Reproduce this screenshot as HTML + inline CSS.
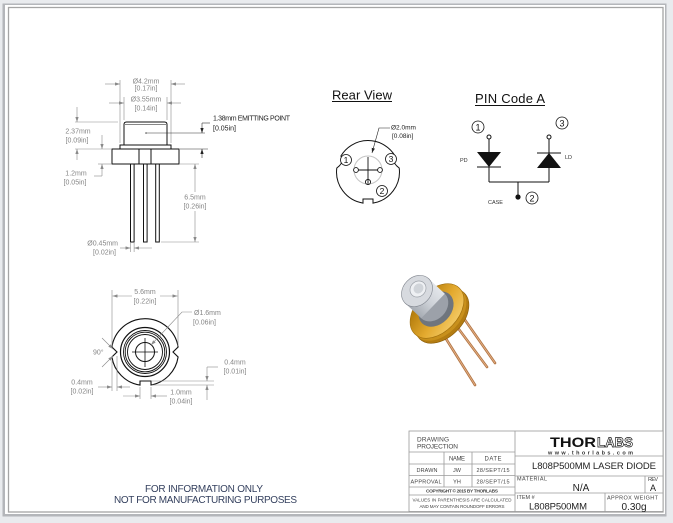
<!DOCTYPE html>
<html><head><meta charset="utf-8"><style>
html,body{margin:0;padding:0;background:#e9ebee;}
svg{display:block;font-family:"Liberation Sans",sans-serif;}
</style></head><body>
<svg width="673" height="523" viewBox="0 0 673 523" xmlns="http://www.w3.org/2000/svg">
<defs>
<marker id="ag" viewBox="0 0 6 4" refX="6" refY="2" markerWidth="5" markerHeight="3.4" markerUnits="userSpaceOnUse" orient="auto"><path d="M0,0 L6,2 L0,4 z" fill="#8a8a8a"/></marker>
<marker id="ab" viewBox="0 0 6 4" refX="6" refY="2" markerWidth="5" markerHeight="3.4" markerUnits="userSpaceOnUse" orient="auto"><path d="M0,0 L6,2 L0,4 z" fill="#222"/></marker>
<linearGradient id="gold" x1="0" y1="0" x2="0.3" y2="1"><stop offset="0" stop-color="#f6d070"/><stop offset="0.55" stop-color="#e3a92e"/><stop offset="1" stop-color="#b8800f"/></linearGradient>
<linearGradient id="silver" x1="1" y1="0" x2="0" y2="1"><stop offset="0" stop-color="#f2f4f7"/><stop offset="0.5" stop-color="#cdd1d7"/><stop offset="1" stop-color="#8c929a"/></linearGradient>
</defs>

<!-- page -->
<rect x="0" y="0" width="673" height="523" fill="#e9ebee"/>
<rect x="2.5" y="3.5" width="664" height="513" fill="#b4b6ba"/>
<rect x="5" y="5" width="660" height="509" fill="#fff"/>
<rect x="8.5" y="7.5" width="654.5" height="504.5" fill="none" stroke="#a5a5a5" stroke-width="1.3"/>

<!-- ===== SIDE VIEW ===== -->
<g stroke="#111" stroke-width="1" fill="none">
  <path d="M124,145 V124.5 Q124,122 126.5,122 H164.5 Q167,122 167,124.5 V145"/>
  <line x1="125" y1="124.5" x2="166" y2="124.5" stroke-width="0.6"/>
  <rect x="120" y="145" width="51" height="4" fill="#fff"/>
  <rect x="112" y="149" width="67" height="15" fill="#fff"/>
  <line x1="139" y1="149" x2="139" y2="164"/>
  <line x1="151" y1="149" x2="151" y2="164"/>
  <rect x="130.5" y="164" width="3.6" height="78"/>
  <rect x="143.5" y="164" width="3.6" height="78"/>
  <rect x="155.7" y="164" width="3.6" height="78"/>
</g>
<circle cx="146" cy="133" r="0.8" fill="#555"/>
<g stroke="#8a8a8a" stroke-width="0.6" fill="none">
  <line x1="120" y1="80" x2="120" y2="143"/><line x1="171" y1="80" x2="171" y2="143"/>
  <line x1="105" y1="84" x2="120" y2="84" marker-end="url(#ag)"/>
  <line x1="185" y1="84" x2="171" y2="84" marker-end="url(#ag)"/>
  <line x1="124" y1="97" x2="124" y2="120"/><line x1="167" y1="97" x2="167" y2="120"/>
  <line x1="109" y1="103" x2="124" y2="103" marker-end="url(#ag)"/>
  <line x1="181" y1="103" x2="167" y2="103" marker-end="url(#ag)"/>
  <line x1="75" y1="122" x2="118" y2="122"/>
  <line x1="77" y1="107" x2="77" y2="122" marker-end="url(#ag)"/>
  <line x1="75" y1="149" x2="111" y2="149"/>
  <line x1="102" y1="135" x2="102" y2="149" marker-end="url(#ag)"/>
  <line x1="77" y1="160" x2="77" y2="149" marker-end="url(#ag)"/>
  <line x1="98" y1="164" x2="111" y2="164"/>
  <line x1="94" y1="176" x2="102" y2="176"/>
  <line x1="102" y1="176" x2="102" y2="164" marker-end="url(#ag)"/>
  <line x1="180" y1="164" x2="199" y2="164"/>
  <line x1="161" y1="242" x2="199" y2="242"/>
  <line x1="195" y1="192" x2="195" y2="164" marker-end="url(#ag)"/>
  <line x1="195" y1="211" x2="195" y2="242" marker-end="url(#ag)"/>
  <line x1="130.5" y1="243" x2="130.5" y2="252"/><line x1="134.1" y1="243" x2="134.1" y2="252"/>
  <line x1="120" y1="248" x2="130.5" y2="248" marker-end="url(#ag)"/>
  <line x1="152" y1="248" x2="134.1" y2="248" marker-end="url(#ag)"/>
</g>
<g stroke="#333" stroke-width="0.6" fill="none">
  <line x1="146" y1="133" x2="205" y2="133"/>
  <line x1="210" y1="123" x2="202" y2="123"/>
  <line x1="202" y1="123" x2="202" y2="133" marker-end="url(#ab)"/>
  <line x1="180" y1="149" x2="208" y2="149"/>
  <line x1="202" y1="158" x2="202" y2="149" marker-end="url(#ab)"/>
</g>
<g font-size="7" fill="#858585" text-anchor="middle">
  <text x="146" y="83.5">Ø4.2mm</text><text x="146" y="90.5">[0.17in]</text>
  <text x="146" y="101.5">Ø3.55mm</text><text x="146" y="110.5">[0.14in]</text>
  <text x="78" y="133.5">2.37mm</text><text x="77" y="142.5">[0.09in]</text>
  <text x="76" y="175.5">1.2mm</text><text x="75" y="184.5">[0.05in]</text>
  <text x="195" y="199.5">6.5mm</text><text x="195" y="208.5">[0.26in]</text>
  <text x="118" y="245.5" text-anchor="end">Ø0.45mm</text><text x="116" y="254.5" text-anchor="end">[0.02in]</text>
</g>
<g font-size="7" fill="#222">
  <text x="213" y="120.5" textLength="77">1.38mm EMITTING POINT</text>
  <text x="213" y="130.5">[0.05in]</text>
</g>

<!-- ===== BOTTOM VIEW ===== -->
<g stroke="#111" fill="none">
  <path d="M111.9,347 A33.5,33.5 0 0 1 178.1,347 L173,352 L178.1,357 A33.5,33.5 0 0 1 151,385 L151,381 L140,381 L140,385.1 A33.5,33.5 0 0 1 111.9,357 L117,352 Z" stroke-width="1.1"/>
  <circle cx="145" cy="352" r="24.5" stroke-width="1.2"/>
  <circle cx="145" cy="352" r="21.5" stroke-width="0.9"/>
  <circle cx="145" cy="352" r="19.8" stroke-width="0.9"/>
  <circle cx="145" cy="352" r="17.5" stroke-width="0.9"/>
  <circle cx="145" cy="352" r="9.5" stroke-width="1"/>
  <line x1="145" y1="338" x2="145" y2="367" stroke-width="0.8"/>
  <line x1="132" y1="352" x2="158" y2="352" stroke-width="0.8"/>
</g>
<g stroke="#8a8a8a" stroke-width="0.6" fill="none">
  <line x1="112" y1="290" x2="112" y2="346"/><line x1="178" y1="290" x2="178" y2="346"/>
  <line x1="132" y1="296" x2="112.5" y2="296" marker-end="url(#ag)"/>
  <line x1="160" y1="296" x2="177.5" y2="296" marker-end="url(#ag)"/>
  <polyline points="192,312 182,312 151,345" marker-end="url(#ag)"/>
  <line x1="102" y1="338" x2="113" y2="349" marker-end="url(#ag)"/>
  <line x1="102" y1="367" x2="113" y2="356" marker-end="url(#ag)"/>
  <line x1="112" y1="360" x2="112" y2="391"/><line x1="117" y1="356" x2="117" y2="391"/>
  <line x1="98" y1="387" x2="112" y2="387" marker-end="url(#ag)"/>
  <line x1="130" y1="387" x2="117" y2="387" marker-end="url(#ag)"/>
  <line x1="152" y1="381" x2="214" y2="381"/><line x1="152" y1="385" x2="214" y2="385"/>
  <line x1="218" y1="367" x2="207" y2="367"/>
  <line x1="207" y1="367" x2="207" y2="381" marker-end="url(#ag)"/>
  <line x1="207" y1="400" x2="207" y2="385" marker-end="url(#ag)"/>
  <line x1="140" y1="387" x2="140" y2="399"/><line x1="151" y1="387" x2="151" y2="399"/>
  <line x1="123" y1="396" x2="140" y2="396" marker-end="url(#ag)"/>
  <line x1="167" y1="396" x2="151" y2="396" marker-end="url(#ag)"/>
</g>
<g font-size="7" fill="#858585" text-anchor="middle">
  <text x="145" y="294">5.6mm</text><text x="145" y="303.5">[0.22in]</text>
  <text x="194" y="315" text-anchor="start">Ø1.6mm</text><text x="193" y="324.5" text-anchor="start">[0.06in]</text>
  <text x="93" y="354.5" text-anchor="start">90°</text>
  <text x="82" y="384.5">0.4mm</text><text x="82" y="393.5">[0.02in]</text>
  <text x="235" y="364.5">0.4mm</text><text x="235" y="373.5">[0.01in]</text>
  <text x="181" y="394.5">1.0mm</text><text x="181" y="403.5">[0.04in]</text>
</g>

<!-- ===== REAR VIEW ===== -->
<text x="362" y="99.5" font-size="13" fill="#111" text-anchor="middle" textLength="60">Rear View</text>
<line x1="332" y1="101.5" x2="392" y2="101.5" stroke="#111" stroke-width="0.9"/>
<circle cx="368" cy="170" r="14" fill="none" stroke="#c4c4c4" stroke-width="1"/>
<path d="M340.9,156 A31.5,31.5 0 0 1 395.1,156 Q391,162 399.2,168 A31.5,31.5 0 0 1 373,203.1 L373,199 L363,199 L363,203.1 A31.5,31.5 0 0 1 336.8,168 Q345,162 340.9,156 Z" fill="none" stroke="#111" stroke-width="1"/>
<g stroke="#111" stroke-width="0.9" fill="#fff">
  <line x1="368" y1="157" x2="368" y2="182"/>
  <line x1="356" y1="170" x2="380" y2="170"/>
  <circle cx="356" cy="170" r="2.4"/><circle cx="380" cy="170" r="2.4"/>
  <circle cx="368" cy="182" r="2.6"/>
  <line x1="368" y1="179.4" x2="368" y2="184.6"/>
</g>
<polyline points="390,128 379,128 372,153" fill="none" stroke="#222" stroke-width="0.6" marker-end="url(#ab)"/>
<g font-size="6.5" fill="#222">
  <text x="391" y="129.5">Ø2.0mm</text><text x="392" y="138">[0.08in]</text>
</g>
<g stroke="#111" stroke-width="0.8" fill="#fff">
  <circle cx="346" cy="160" r="5.5"/><circle cx="391" cy="159" r="5.5"/><circle cx="382" cy="191" r="5.5"/>
</g>
<g font-size="8.5" fill="#111" text-anchor="middle">
  <text x="346" y="163">1</text><text x="391" y="162">3</text><text x="382" y="194">2</text>
</g>

<!-- ===== PIN CODE A ===== -->
<text x="510" y="103" font-size="13" fill="#111" text-anchor="middle" textLength="70">PIN Code A</text>
<line x1="475" y1="105.5" x2="545" y2="105.5" stroke="#111" stroke-width="0.9"/>
<g stroke="#111" stroke-width="1" fill="none">
  <line x1="489" y1="139" x2="489" y2="152"/>
  <line x1="477" y1="167" x2="501" y2="167"/>
  <line x1="489" y1="167" x2="489" y2="182"/>
  <line x1="549" y1="139" x2="549" y2="153"/>
  <line x1="537" y1="153" x2="561" y2="153"/>
  <line x1="549" y1="168" x2="549" y2="182"/>
  <line x1="489" y1="182" x2="549" y2="182"/>
  <line x1="518" y1="182" x2="518" y2="197"/>
  <circle cx="489" cy="137" r="2" fill="#fff"/>
  <circle cx="549" cy="137" r="2" fill="#fff"/>
</g>
<polygon points="477,152 501,152 489,167" fill="#111"/>
<polygon points="537,168 561,168 549,153" fill="#111"/>
<circle cx="518" cy="197" r="2.6" fill="#111"/>
<g stroke="#111" stroke-width="0.8" fill="#fff">
  <circle cx="478" cy="127" r="6"/><circle cx="562" cy="123" r="6"/><circle cx="532" cy="198" r="6"/>
</g>
<g font-size="9" fill="#111" text-anchor="middle">
  <text x="478" y="130.5">1</text><text x="562" y="126.5">3</text><text x="532" y="201.5">2</text>
</g>
<g font-size="5.5" fill="#333">
  <text x="460" y="162">PD</text>
  <text x="565" y="159">LD</text>
  <text x="488" y="204">CASE</text>
</g>

<!-- ===== 3D RENDER ===== -->
<g stroke-linecap="round">
  <line x1="443" y1="334" x2="475" y2="385" stroke="#b27646" stroke-width="2.6"/>
  <line x1="455" y1="324" x2="487" y2="367" stroke="#b27646" stroke-width="2.6"/>
  <line x1="465" y1="320" x2="495" y2="363" stroke="#b27646" stroke-width="2.6"/>
  <line x1="443" y1="334" x2="475" y2="385" stroke="#e9b58a" stroke-width="0.8"/>
  <line x1="455" y1="324" x2="487" y2="367" stroke="#e9b58a" stroke-width="0.8"/>
  <line x1="465" y1="320" x2="495" y2="363" stroke="#e9b58a" stroke-width="0.8"/>
</g>
<ellipse cx="442" cy="316" rx="32" ry="21" transform="rotate(134 442 316)" fill="#b37c12" stroke="#8a5c08" stroke-width="0.6"/>
<ellipse cx="439.5" cy="313.5" rx="32" ry="21" transform="rotate(134 439.5 313.5)" fill="#c8901c"/>
<ellipse cx="437" cy="311" rx="32" ry="21" transform="rotate(134 437 311)" fill="url(#gold)" stroke="#a06e0c" stroke-width="0.6"/>
<ellipse cx="436" cy="309" rx="20" ry="15" transform="rotate(134 436 309)" fill="#6f757d"/>
<ellipse cx="433" cy="306" rx="17" ry="13.5" transform="rotate(134 433 306)" fill="#9ca1a9"/>
<polygon points="428.8,278.8 444.8,293.8 421.2,318.2 405.2,303.2" fill="url(#silver)"/>
<ellipse cx="417" cy="291" rx="17" ry="14" transform="rotate(134 417 291)" fill="#d7dadf" stroke="#7c818a" stroke-width="0.6"/>
<ellipse cx="418" cy="289" rx="8.5" ry="7.5" transform="rotate(134 418 289)" fill="#eef0f3" stroke="#9da2a9" stroke-width="0.7"/>
<ellipse cx="418.5" cy="288.5" rx="5.3" ry="4.6" transform="rotate(134 418.5 288.5)" fill="#d0d4d9"/>

<!-- ===== FOOTER NOTE ===== -->
<g font-size="10" fill="#34405e" text-anchor="middle">
  <text x="204" y="492" textLength="118">FOR INFORMATION ONLY</text>
  <text x="205.5" y="503" textLength="183">NOT FOR MANUFACTURING PURPOSES</text>
</g>

<!-- ===== TITLE BLOCK ===== -->
<g stroke="#9a9a9a" stroke-width="0.8" fill="none">
  <rect x="409" y="431" width="254" height="80.5" fill="#fff"/>
  <line x1="515" y1="431" x2="515" y2="511.5"/>
  <line x1="409" y1="452" x2="515" y2="452"/>
  <line x1="409" y1="464" x2="515" y2="464"/>
  <line x1="409" y1="475.5" x2="515" y2="475.5"/>
  <line x1="409" y1="487" x2="515" y2="487"/>
  <line x1="409" y1="495" x2="515" y2="495"/>
  <line x1="444" y1="452" x2="444" y2="487"/>
  <line x1="472" y1="452" x2="472" y2="487"/>
  <line x1="515" y1="456" x2="663" y2="456"/>
  <line x1="515" y1="476" x2="663" y2="476"/>
  <line x1="515" y1="493" x2="663" y2="493"/>
  <line x1="645" y1="476" x2="645" y2="493"/>
  <line x1="605" y1="493" x2="605" y2="511.5"/>
</g>
<g fill="#444">
  <text x="417" y="441.5" font-size="6.5" textLength="32">DRAWING</text>
  <text x="417" y="448.5" font-size="6.5" textLength="41">PROJECTION</text>
  <g font-size="6" text-anchor="middle">
    <text x="457" y="460.5" textLength="16">NAME</text>
    <text x="493" y="460.5" textLength="17">DATE</text>
  </g>
  <g font-size="5.5" text-anchor="middle">
    <text x="427" y="472" textLength="21">DRAWN</text>
    <text x="457" y="472">JW</text>
    <text x="493" y="472" textLength="33">28/SEPT/15</text>
    <text x="426" y="483.5" textLength="31">APPROVAL</text>
    <text x="457" y="483.5">YH</text>
    <text x="493" y="483.5" textLength="33">28/SEPT/15</text>
  </g>
  <text x="462" y="492.5" font-size="4.8" font-weight="bold" text-anchor="middle" textLength="72">COPYRIGHT © 2015 BY THORLABS</text>
  <text x="462" y="501.5" font-size="4.5" text-anchor="middle" textLength="99">VALUES IN PARENTHESIS ARE CALCULATED</text>
  <text x="462" y="508" font-size="4.5" text-anchor="middle" textLength="85">AND MAY CONTAIN ROUNDOFF ERRORS</text>
</g>
<text x="550" y="447" font-size="14" font-weight="bold" fill="#111" textLength="46" lengthAdjust="spacingAndGlyphs">THOR</text>
<text x="597" y="447" font-size="14" font-weight="bold" fill="#fff" stroke="#111" stroke-width="0.7" textLength="36" lengthAdjust="spacingAndGlyphs">LABS</text>
<text x="548" y="454.5" font-size="5.5" font-weight="bold" fill="#333" textLength="85">www.thorlabs.com</text>
<text x="594" y="469" font-size="9.5" fill="#222" text-anchor="middle" textLength="124">L808P500MM LASER DIODE</text>
<g font-size="5.5" fill="#444">
  <text x="517" y="480.5" textLength="30">MATERIAL</text>
  <text x="648" y="481" textLength="10">REV</text>
  <text x="517" y="499">ITEM #</text>
  <text x="607" y="499.5" textLength="51">APPROX WEIGHT</text>
</g>
<g fill="#222" text-anchor="middle">
  <text x="581" y="491" font-size="10">N/A</text>
  <text x="653" y="491" font-size="9">A</text>
  <text x="558" y="509.5" font-size="9.5" textLength="58">L808P500MM</text>
  <text x="634" y="510" font-size="10">0.30g</text>
</g>
</svg>
</body></html>
